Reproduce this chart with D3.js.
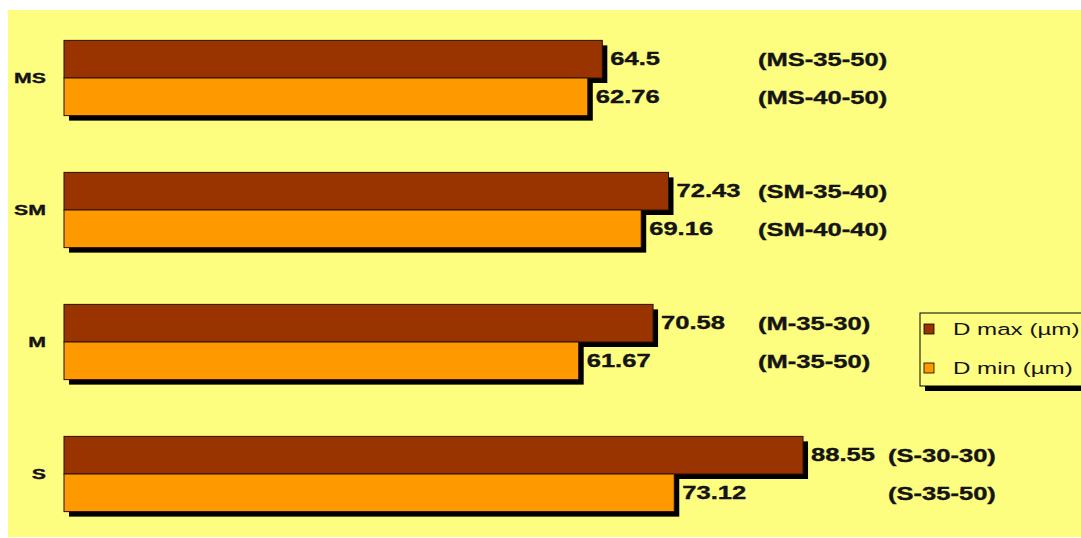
<!DOCTYPE html>
<html>
<head>
<meta charset="utf-8">
<script src="https://cdn.jsdelivr.net/npm/d3@7"></script>
<style>
  html, body { margin: 0; padding: 0; background: #ffffff; }
  svg { display: block; }
  text { font-family: "Liberation Sans", Arial, sans-serif; fill: #141414; }
</style>
</head>
<body>
<svg id="chart" width="1081" height="538"></svg>
<script>
// ---- data ----
const categories = ["MS", "SM", "M", "S"];
const dMax = [64.5, 72.43, 70.58, 88.55];
const dMin = [62.76, 69.16, 61.67, 73.12];
const codeMax = ["(MS-35-50)", "(SM-35-40)", "(M-35-30)", "(S-30-30)"];
const codeMin = ["(MS-40-50)", "(SM-40-40)", "(M-35-50)", "(S-35-50)"];
const seriesNames = ["D max (µm)", "D min (µm)"];
const seriesKeys = ["max", "min"];

// ---- styles ----
const W = 1081, H = 538;
const bg = "#FDFD80";
const colors = { max: "#993300", min: "#FF9900" };
const SX = 1.42;          // horizontal stretch of the original picture's text
const SHADOW = 5;

const svg = d3.select("#chart");

svg.append("rect").attr("x", 8).attr("y", 10).attr("width", W - 8).attr("height", 527).attr("fill", bg);

const x = d3.scaleLinear().domain([0, 100]).range([64, 898.6]);
const y = d3.scaleBand().domain(categories).range([12, 540]).paddingInner(0.43).paddingOuter(0.215);
const ySub = d3.scaleBand().domain(seriesKeys).range([0, y.bandwidth()]);

const rows = categories.map((c, i) => ({
  cat: c,
  bars: [
    { key: "max", v: dMax[i], code: codeMax[i] },
    { key: "min", v: dMin[i], code: codeMin[i] }
  ]
}));

function stretchedText(parent, tx, ty, str, opts) {
  const g = parent.append("g").attr("transform", `translate(${tx},${ty}) scale(${SX},1)`);
  const t = g.append("text")
    .attr("x", 0).attr("y", 0)
    .attr("dominant-baseline", "central")
    .attr("text-anchor", opts.anchor || "start")
    .style("font-size", opts.size + "px")
    .style("font-weight", opts.weight || "normal")
    .style("stroke", opts.weight === "bold" ? "#141414" : "none")
    .style("stroke-width", opts.weight === "bold" ? 0.35 : 0)
    .text(str);
  return t;
}

const groups = svg.selectAll("g.row").data(rows).enter().append("g").attr("class", "row")
  .attr("transform", d => `translate(0,${y(d.cat)})`);

groups.each(function(d) {
  const g = d3.select(this);
  d.bars.forEach(b => {
    // shadow
    g.append("rect")
      .attr("x", x(0) + SHADOW).attr("y", ySub(b.key) + SHADOW)
      .attr("width", x(b.v) - x(0)).attr("height", ySub.bandwidth())
      .attr("fill", "#000");
    g.append("rect")
      .attr("x", x(0)).attr("y", ySub(b.key))
      .attr("width", x(b.v) - x(0)).attr("height", ySub.bandwidth())
      .attr("fill", colors[b.key]).attr("stroke", "#2a1200").attr("stroke-width", 1);
  });
  // category label
  stretchedText(g, 46, y.bandwidth() / 2, d.cat, { size: 15, weight: "bold", anchor: "end" });

  // value labels
  let maxEnd = 0;
  d.bars.forEach(b => {
    const tx = x(b.v) + 8;
    const t = stretchedText(g, tx, ySub(b.key) + ySub.bandwidth() / 2, String(b.v), { size: 18, weight: "bold" });
    const end = tx + t.node().getComputedTextLength() * SX;
    maxEnd = Math.max(maxEnd, end);
  });
  // code labels
  const cx = Math.max(758, maxEnd + 13);
  d.bars.forEach(b => {
    stretchedText(g, cx, ySub(b.key) + ySub.bandwidth() / 2 + 1, b.code, { size: 18, weight: "bold" });
  });
});

// ---- legend ----
const lg = svg.append("g").attr("transform", "translate(920,313)");
lg.append("rect").attr("x", SHADOW).attr("y", SHADOW).attr("width", 200).attr("height", 73).attr("fill", "#000");
lg.append("rect").attr("x", 0).attr("y", 0).attr("width", 200).attr("height", 73).attr("fill", bg).attr("stroke", "#000").attr("stroke-width", 1);
seriesKeys.forEach((k, i) => {
  const cy = 16 + i * 39;
  lg.append("rect").attr("x", 4).attr("y", cy - 5).attr("width", 10).attr("height", 10)
    .attr("fill", colors[k]).attr("stroke", "#000").attr("stroke-width", 0.8);
  stretchedText(lg, 33, cy, seriesNames[i], { size: 17, weight: "normal" });
});
</script>
</body>
</html>
